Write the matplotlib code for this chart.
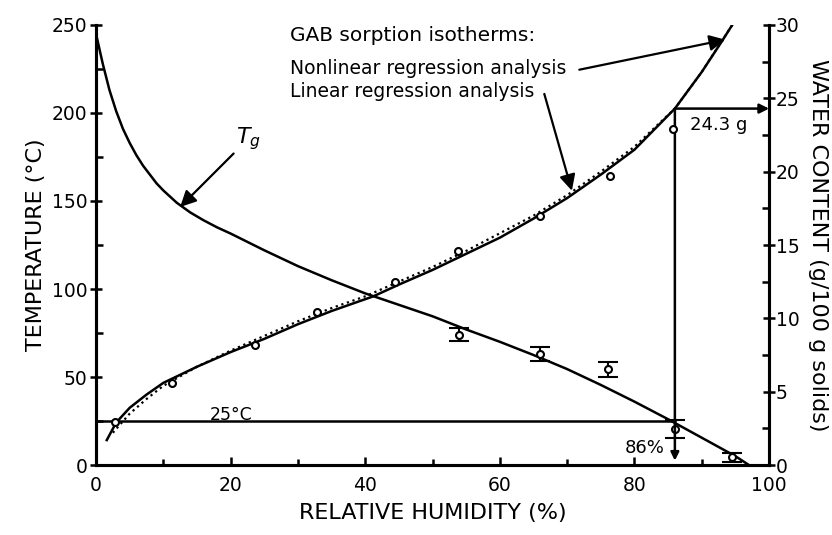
"""State diagram: glass transition temperature and GAB sorption isotherm vs relative humidity."""

import matplotlib

matplotlib.use("Agg")

import matplotlib.pyplot as plt
from matplotlib.ticker import MultipleLocator

plt.rcParams["font.family"] = ["DejaVu Sans"]

# Glass transition curve (RH %, temperature degC)
tg_rh = [0, 1, 2, 3, 4, 5, 6, 7, 8, 9, 10, 12, 14, 16, 18, 20, 25, 30, 35,
         40, 45, 50, 55, 60, 65, 70, 75, 80, 85, 90, 95, 97]
tg_temp = [245, 228, 213, 201, 191, 183, 176, 170, 165, 160, 156, 149,
           143.5, 139, 135, 131.5, 122, 113, 105, 97.5, 91, 84.5, 77, 70,
           62.5, 54.5, 45.5, 36, 26, 15.5, 5, 0]

# Measured Tg points with error bars
tg_pts_rh = [54, 66, 76, 86, 94.5]
tg_pts_temp = [74, 63, 54.5, 20.5, 4.5]
tg_pts_err = [3.8, 3.8, 4.3, 5, 2.5]

# GAB isotherm, nonlinear regression (RH %, g water / 100 g solids)
gab_nl_rh = [1.6, 3, 5, 7.5, 10, 15, 20, 25, 30, 35, 41.2, 45, 50, 55, 60,
             65, 70, 75, 80, 86, 90, 93, 94.8]
gab_nl_w = [1.7, 2.9, 3.9, 4.8, 5.6, 6.7, 7.7, 8.6, 9.6, 10.5, 11.5, 12.3,
            13.3, 14.4, 15.5, 16.8, 18.2, 19.8, 21.5, 24.3, 26.8, 28.9, 30.2]

# GAB isotherm, linear regression
gab_lin_rh = [2.5, 5, 7.5, 10, 15, 20, 25, 30, 35, 40, 45, 50, 55, 60, 65,
              70, 75, 80, 86, 90, 94.8]
gab_lin_w = [2.2, 3.5, 4.5, 5.4, 6.7, 7.8, 8.8, 9.8, 10.7, 11.5, 12.5, 13.5,
             14.6, 15.8, 17.0, 18.4, 20.0, 21.7, 24.3, 26.8, 30.2]

# Measured water contents
sorp_rh = [2.8, 11.3, 23.6, 32.8, 44.4, 53.8, 66, 76.4, 85.7]
sorp_w = [2.9, 5.6, 8.2, 10.4, 12.5, 14.6, 17.0, 19.7, 22.9]

CRIT_RH = 86
CRIT_W = 24.3
STORE_T = 25


def main():
    fig = plt.figure(figsize=(8.32, 5.35), dpi=100)
    ax = fig.add_axes([0.1154, 0.1308, 0.809, 0.8225])
    ax2 = ax.twinx()

    ax.set_xlim(0, 100)
    ax.set_ylim(0, 250)
    ax2.set_ylim(0, 30)

    for a in (ax, ax2):
        a.spines["top"].set_visible(False)
        for side in ("left", "right", "bottom"):
            a.spines[side].set_linewidth(2.2)

    # Tg curve and points
    ax.plot(tg_rh, tg_temp, color="black", lw=1.8)
    ax.errorbar(tg_pts_rh, tg_pts_temp, yerr=tg_pts_err, fmt="o",
                ms=5, mfc="white", mec="black", mew=1.5, ecolor="black",
                elinewidth=1.5, capsize=7, capthick=2.5, zorder=4)

    # Isotherms
    ax2.plot(gab_nl_rh, gab_nl_w, color="black", lw=1.8)
    ax2.plot(gab_lin_rh, gab_lin_w, color="black", lw=1.6, ls=":")
    ax2.plot(sorp_rh, sorp_w, "o", ms=5, mfc="white", mec="black", mew=1.5,
             zorder=4)

    # 25 degC line and critical RH
    ax.plot([0, CRIT_RH], [STORE_T, STORE_T], color="black", lw=1.8)
    ax.text(20.0, STORE_T - 1.5, "25°C", ha="center", va="bottom",
            fontsize=12.5)
    ax2.annotate("", xy=(CRIT_RH, 0.3), xytext=(CRIT_RH, CRIT_W),
                 arrowprops=dict(arrowstyle="-|>", color="black", lw=1.8,
                                 mutation_scale=12, shrinkA=0, shrinkB=0))
    ax2.annotate("", xy=(100, CRIT_W), xytext=(CRIT_RH, CRIT_W),
                 arrowprops=dict(arrowstyle="-|>", color="black", lw=1.8,
                                 mutation_scale=14, shrinkA=0, shrinkB=0))
    ax2.text(88.3, 23.2, "24.3 g", ha="left", va="center", fontsize=13)
    ax.text(84.5, 9.5, "86%", ha="right", va="center", fontsize=13)

    # Labels with arrows
    ax.annotate("$T_g$", xy=(12.5, 146.6), xytext=(22.7, 178),
                fontsize=16, ha="center", va="bottom",
                arrowprops=dict(arrowstyle="-|>", color="black", lw=1.6,
                                mutation_scale=24, shrinkA=0, shrinkB=0))
    ax.text(28.8, 244, "GAB sorption isotherms:", ha="left", va="center",
            fontsize=14.5)
    ax.text(28.8, 225.5, "Nonlinear regression analysis", ha="left",
            va="center", fontsize=13.5)
    ax.text(28.8, 212, "Linear regression analysis", ha="left",
            va="center", fontsize=13.5)
    ax2.annotate("", xy=(93.5, 29.0), xytext=(71.8, 26.95),
                 arrowprops=dict(arrowstyle="-|>", color="black", lw=1.6,
                                 mutation_scale=24, shrinkA=0, shrinkB=0))
    ax2.annotate("", xy=(70.7, 18.7), xytext=(66.6, 25.3),
                 arrowprops=dict(arrowstyle="-|>", color="black", lw=1.6,
                                 mutation_scale=24, shrinkA=0, shrinkB=0))

    # Ticks
    ax.xaxis.set_major_locator(MultipleLocator(20))
    ax.xaxis.set_minor_locator(MultipleLocator(10))
    ax.yaxis.set_major_locator(MultipleLocator(50))
    ax.yaxis.set_minor_locator(MultipleLocator(25))
    ax2.yaxis.set_major_locator(MultipleLocator(5))
    ax2.yaxis.set_minor_locator(MultipleLocator(2.5))
    ax.tick_params(axis="y", which="major", direction="inout", length=8,
                   width=1.8, labelsize=13.5, pad=2)
    ax.tick_params(axis="y", which="minor", direction="in", length=5,
                   width=1.8)
    ax.tick_params(axis="x", which="major", direction="in", length=6,
                   width=1.8, labelsize=13.5, pad=8)
    ax.tick_params(axis="x", which="minor", direction="in", length=4,
                   width=1.8)
    ax2.tick_params(axis="y", which="major", direction="inout", length=8,
                    width=1.8, labelsize=13.5, pad=1)
    ax2.tick_params(axis="y", which="minor", direction="in", length=5,
                    width=1.8)

    ax.set_xlabel("RELATIVE HUMIDITY (%)", fontsize=16, labelpad=6)
    ax.set_ylabel("TEMPERATURE (°C)", fontsize=16, labelpad=4)
    ax2.set_ylabel("WATER CONTENT (g/100 g solids)", fontsize=16,
                   rotation=270, labelpad=20)

    fig.savefig("out.png", dpi=100)
    plt.close(fig)


if __name__ == "__main__":
    main()
